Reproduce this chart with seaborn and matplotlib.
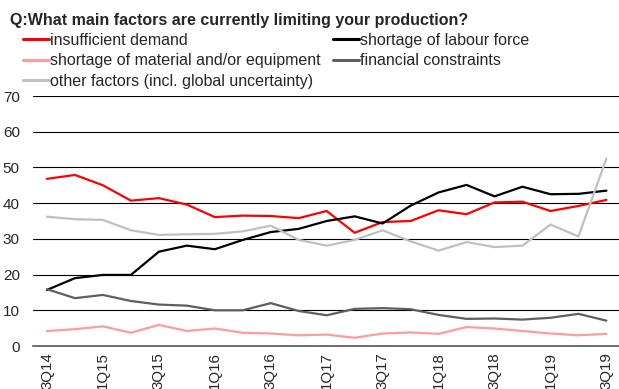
import numpy as np
import pandas as pd
import matplotlib
matplotlib.use("Agg")
import matplotlib.pyplot as plt
import seaborn as sns

quarters = ["3Q14", "4Q14", "1Q15", "2Q15", "3Q15", "4Q15", "1Q16", "2Q16", "3Q16", "4Q16",
            "1Q17", "2Q17", "3Q17", "4Q17", "1Q18", "2Q18", "3Q18", "4Q18", "1Q19", "2Q19", "3Q19"]

insufficient_demand = [46.8, 47.9, 45.0, 40.7, 41.4, 39.6, 36.1, 36.5, 36.4, 35.8,
                       37.8, 31.7, 34.7, 35.0, 38.0, 36.9, 40.2, 40.4, 37.8, 39.2, 40.9]
labour_shortage = [15.7, 19.0, 19.9, 19.9, 26.4, 28.1, 27.1, 29.7, 31.9, 32.8,
                   35.0, 36.3, 34.3, 39.3, 43.0, 45.1, 41.9, 44.6, 42.5, 42.6, 43.5]
material_shortage = [4.2, 4.7, 5.5, 3.7, 5.9, 4.2, 4.9, 3.7, 3.5, 3.0,
                     3.2, 2.3, 3.5, 3.8, 3.4, 5.3, 4.9, 4.2, 3.5, 3.0, 3.4]
financial_constraints = [15.9, 13.4, 14.3, 12.6, 11.6, 11.3, 10.0, 10.0, 12.0, 9.8,
                         8.6, 10.4, 10.6, 10.3, 8.7, 7.6, 7.7, 7.4, 7.9, 9.0, 7.1]
other_factors = [36.2, 35.5, 35.3, 32.4, 31.1, 31.3, 31.4, 32.1, 33.7, 29.7,
                 28.1, 29.7, 32.4, 29.3, 26.7, 29.1, 27.7, 28.1, 34.0, 30.7, 52.5]

series_names = ["insufficient demand", "shortage of labour force",
                "shortage of material and/or equipment", "financial constraints",
                "other factors (incl. global uncertainty)"]
series_values = [insufficient_demand, labour_shortage, material_shortage,
                 financial_constraints, other_factors]
colors = ["#FF0000", "#000000", "#FF9C9C", "#5F5F5F", "#C0C0C0"]

rows = []
for name, vals in zip(series_names, series_values):
    for i, v in enumerate(vals):
        rows.append({"idx": i, "value": v, "factor": name})
df = pd.DataFrame(rows)

sns.set_theme(style="white")
plt.rcParams["font.family"] = ["Liberation Sans", "DejaVu Sans"]

fig = plt.figure(figsize=(6.19, 3.89), dpi=100)
ax = fig.add_axes([33 / 619, 43 / 389, 586 / 619, 250 / 389])

sns.lineplot(data=df, x="idx", y="value", hue="factor", hue_order=series_names,
             palette=dict(zip(series_names, colors)), linewidth=1.6, ax=ax,
             legend=False, zorder=3)

ax.set_xlim(-0.5, 20.45)
ax.set_ylim(0, 70)
ax.set_yticks(range(0, 71, 10))
ax.yaxis.grid(True, color="black", linewidth=0.8)
ax.set_axisbelow(True)
ax.set_xticks(range(0, len(quarters), 2))
ax.set_xticklabels(quarters[::2], rotation=90, fontsize=10.8, va="top")
ax.tick_params(axis="y", labelsize=11, length=0, pad=9.5)
ax.tick_params(axis="x", length=0, pad=4.3)
ax.set_xlabel("")
ax.set_ylabel("")
for s in ["top", "right", "left"]:
    ax.spines[s].set_visible(False)
ax.spines["bottom"].set_color("#555555")
ax.spines["bottom"].set_linewidth(1.2)

fig.text(10 / 619, 1 - 20 / 389, "Q:What main factors are currently limiting your production?",
         fontsize=11.5, fontweight="bold", va="center", ha="left")

handles = [plt.Line2D([], [], color=c, linewidth=2.2) for c in colors]
order = [0, 2, 4, 1, 3]
leg = fig.legend([handles[i] for i in order], [series_names[i] for i in order],
                 ncol=2, loc="upper left", bbox_to_anchor=(23 / 619, 1 - 33 / 389),
                 frameon=False, fontsize=11.5, handlelength=1.63, handletextpad=0.06,
                 columnspacing=0.75, labelspacing=0.34, borderpad=0, borderaxespad=0)

fig.savefig("out.png", dpi=100)
